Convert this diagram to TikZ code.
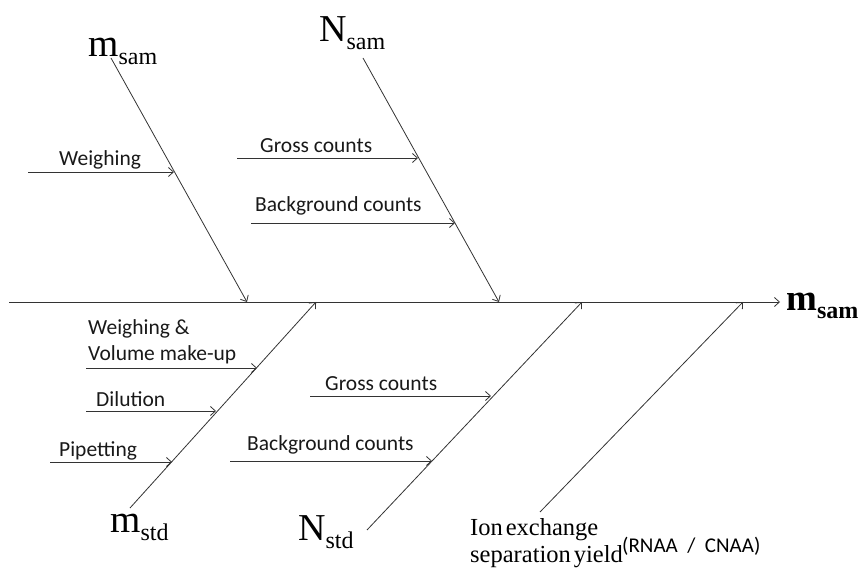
\documentclass[tikz,border=0pt]{standalone}
\usepackage{fontspec}
\setmainfont{Liberation Serif}
\newfontfamily\calib{Carlito}
\usetikzlibrary{arrows.meta}
\newcommand\fishlbl[3]{{\fontsize{#3}{#3}\selectfont #1}\raisebox{-8pt}{\fontsize{24}{24}\selectfont #2}}
\begin{document}
\begin{tikzpicture}[x=1pt,y=-1pt,
  line/.style={draw=black!80, line width=0.8pt},
  arr/.style={line, -{Straight Barb[length=5pt,width=9pt]}},
  lbl/.style={inner sep=0pt, anchor=base west, font=\calib\fontsize{21.5}{21.5}\selectfont, text=black!90},
  big/.style={inner sep=0pt, anchor=base west}]
\useasboundingbox (0,0) rectangle (865,569);
% spine
\coordinate (s0) at (9,302);
\coordinate (s1) at (780,302);
% bones
\coordinate (b1s) at (111,58);  \coordinate (b1e) at (247,302);
\coordinate (b2s) at (363,58);  \coordinate (b2e) at (499,302);
\coordinate (b3s) at (130,508); \coordinate (b3e) at (316,302);
\coordinate (b4s) at (367,530); \coordinate (b4e) at (582,302);
\coordinate (b5s) at (540,512); \coordinate (b5e) at (743,302);
% small arrows
\coordinate (a1s) at (28,172);  \coordinate (a1e) at (174,172);
\coordinate (a2s) at (237,158); \coordinate (a2e) at (418,158);
\coordinate (a3s) at (251,223); \coordinate (a3e) at (455,223);
\coordinate (a4s) at (86,368);  \coordinate (a4e) at (257,368);
\coordinate (a5s) at (86,411);  \coordinate (a5e) at (216,411);
\coordinate (a6s) at (50,462);  \coordinate (a6e) at (172,462);
\coordinate (a7s) at (310,396); \coordinate (a7e) at (491,396);
\coordinate (a8s) at (230,461); \coordinate (a8e) at (432,461);

\draw[arr] (s0) -- (s1);
\draw[arr] (b1s) -- (b1e);
\draw[arr] (b2s) -- (b2e);
\draw[arr] (b3s) -- (b3e);
\draw[arr] (b4s) -- (b4e);
\draw[arr] (b5s) -- (b5e);
\foreach \i in {1,...,8} { \draw[arr] (a\i s) -- (a\i e); }

% large labels
\node[big] (msam) at (88,57) {\fishlbl{m}{sam}{39}};
\node[big] (Nsam) at (319,42) {\fishlbl{N}{sam}{38}};
\node[big] (mres) at (786,311) {\bfseries\fishlbl{m}{sam}{37}};
\node[big] (mstd) at (110,532) {\fishlbl{m}{std}{39}};
\node[big] (Nstd) at (298,540) {\fishlbl{N}{std}{38}};
\node[big, font=\fontsize{24.5}{24.5}\selectfont] (ion1) at (470,535) {Ion\hspace{3pt}exchange};
\node[big, font=\fontsize{24.5}{24.5}\selectfont] (ion2) at (470,562) {separation\hspace{3pt}yield};
\node[big, font=\calib\fontsize{21}{21}\selectfont] (rc) at (622,552) {(RNAA~~/~~CNAA)};

% small labels
\node[lbl] (w1) at (59,166) {Weighing};
\node[lbl] (g1) at (260,153) {Gross counts};
\node[lbl] (bg1) at (255,212) {Background counts};
\node[lbl] (w2) at (88,335) {Weighing \&};
\node[lbl] (vol) at (88,360) {Volume make-up};
\node[lbl] (dil) at (96,406) {Dilution};
\node[lbl] (pip) at (59,456) {Pipetting};
\node[lbl] (g2) at (325,390) {Gross counts};
\node[lbl] (bg2) at (247,450) {Background counts};
\end{tikzpicture}
\end{document}
